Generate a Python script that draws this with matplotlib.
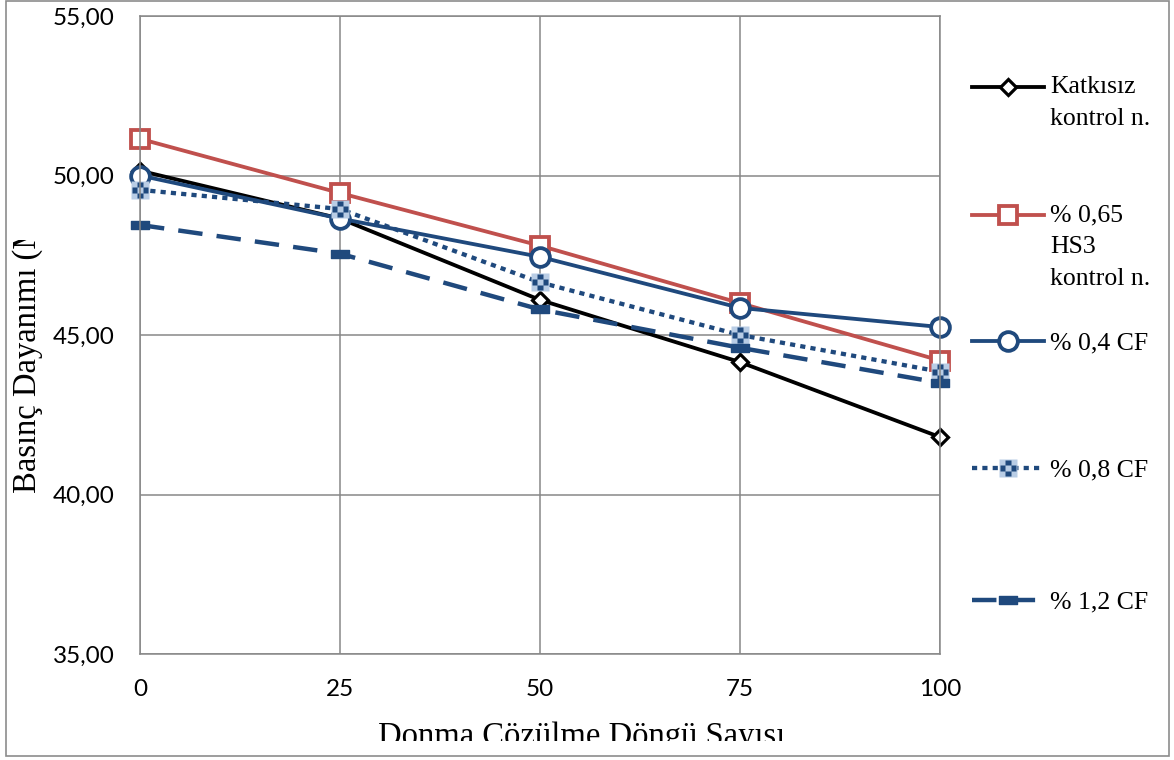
import matplotlib
matplotlib.use('Agg')
import matplotlib.pyplot as plt
from matplotlib.path import Path
from matplotlib.patches import Rectangle
from matplotlib.ticker import FuncFormatter, MultipleLocator
from matplotlib.transforms import Bbox, TransformedBbox

cycles = [0, 25, 50, 75, 100]
katkisiz = [50.15, 48.65, 46.10, 44.15, 41.80]
hs3 = [51.15, 49.45, 47.80, 46.00, 44.20]
cf_04 = [50.00, 48.65, 47.45, 45.85, 45.25]
cf_08 = [49.55, 48.95, 46.65, 45.00, 43.85]
cf_12 = [48.45, 47.55, 45.80, 44.60, 43.50]

series_labels = ['Katkısız\nkontrol n.', '% 0,65\nHS3\nkontrol n.',
                 '% 0,4 CF', '% 0,8 CF', '% 1,2 CF']
x_label = 'Donma Çözülme Döngü Sayısı'
y_label = 'Basınç Dayanımı (MPa)'

BLUE = '#1f497d'
RED = '#c0504d'
LIGHT = '#b9cde5'
GRID = '#878787'
SERIF = 'Liberation Serif'

W, H = 1174, 760


def px_x(x):
    return x / W


def px_y(y):
    return 1 - y / H


def checker_marker():
    # four dark cells round the centre of a 3x3 grid
    cells = [(0, 1), (-1, 0), (1, 0), (0, -1)]
    verts, codes = [], []
    for cx, cy in cells:
        x0, y0 = cx - 0.5, cy - 0.5
        verts += [(x0, y0), (x0 + 1, y0), (x0 + 1, y0 + 1), (x0, y0 + 1), (x0, y0)]
        codes += [Path.MOVETO, Path.LINETO, Path.LINETO, Path.LINETO, Path.CLOSEPOLY]
    return Path(verts, codes)


def dash_marker():
    verts = [(-1, -0.5), (1, -0.5), (1, 0.5), (-1, 0.5), (-1, -0.5)]
    codes = [Path.MOVETO, Path.LINETO, Path.LINETO, Path.LINETO, Path.CLOSEPOLY]
    return Path(verts, codes)


def pad_label(text):
    # blank lines on top keep the key level with the first text line
    return '\n' * text.count('\n') + text


fig = plt.figure(figsize=(W / 100, H / 100), dpi=100)
ax = fig.add_axes([px_x(140), px_y(654), px_x(940) - px_x(140), px_y(16) - px_y(654)])

l1, = ax.plot(cycles, katkisiz, color='black', lw=2.75, marker='D', ms=8.6,
              mfc='white', mec='black', mew=2.3, clip_on=False)
l2, = ax.plot(cycles, hs3, color=RED, lw=2.75, marker='s', ms=13,
              mfc='white', mec=RED, mew=2.75, clip_on=False)
l3, = ax.plot(cycles, cf_04, color=BLUE, lw=2.75, marker='o', ms=13.5,
              mfc='white', mec=BLUE, mew=2.75, clip_on=False)
l4, = ax.plot(cycles, cf_08, color=BLUE, lw=3.1, ls=(0, (1.2, 1.2)), marker='s',
              ms=12.5, mfc=LIGHT, mec='none', clip_on=False)
l4b, = ax.plot(cycles, cf_08, ls='none', marker=checker_marker(), ms=11,
               mfc=BLUE, mec='none', clip_on=False)
l5, = ax.plot(cycles, cf_12, color=BLUE, lw=3.2, ls=(0, (5.5, 3.2)), marker=dash_marker(),
              ms=12.5, mfc=BLUE, mec=BLUE, mew=1, clip_on=False)

ax.set_xlim(0, 100)
ax.set_ylim(35, 55)
ax.set_xticks(cycles)
ax.yaxis.set_major_locator(MultipleLocator(5))
ax.yaxis.set_major_formatter(FuncFormatter(lambda v, _: f'{v:.2f}'.replace('.', ',')))
ax.tick_params(length=0, pad=18, labelsize=17.5)
for lab in ax.get_xticklabels() + ax.get_yticklabels():
    lab.set_family('Lato')
ax.set_axisbelow(True)
ax.grid(True, color=GRID, lw=1.1)
for sp in ax.spines.values():
    sp.set_color(GRID)
    sp.set_linewidth(1.1)

# one legend per entry so each key sits at its own height
handles = [l1, l2, l3, (l4, l4b), l5]
legend_y = [87, 215, 343, 470, 602]
for h, lab, y in zip(handles, series_labels, legend_y):
    leg = fig.legend(handles=[h], labels=[pad_label(lab)], loc='center left',
                     bbox_to_anchor=(px_x(972), px_y(y)), frameon=False, borderpad=0,
                     borderaxespad=0, handlelength=2.8, handletextpad=0.25, numpoints=1,
                     prop={'family': SERIF, 'size': 18.5})
    for t in leg.get_texts():
        t.set_linespacing(1.6)

ylab = fig.text(px_x(28), px_y(335), y_label, rotation=90, ha='center', va='center',
                family=SERIF, fontsize=23.5)
ylab.set_clip_box(TransformedBbox(Bbox.from_extents(0, 0, 1, px_y(240)), fig.transFigure))

xlab = fig.text(px_x(582), px_y(745), x_label, ha='center', va='baseline',
                family=SERIF, fontsize=23.5)
xlab.set_clip_box(TransformedBbox(Bbox.from_extents(0, px_y(741), 1, 1), fig.transFigure))

fig.patches.append(Rectangle((px_x(6), px_y(756)), px_x(1169) - px_x(6), px_y(1) - px_y(756),
                             transform=fig.transFigure, fill=False, ec='#8c8c8c', lw=1.2))

fig.savefig('out.png', dpi=100)
